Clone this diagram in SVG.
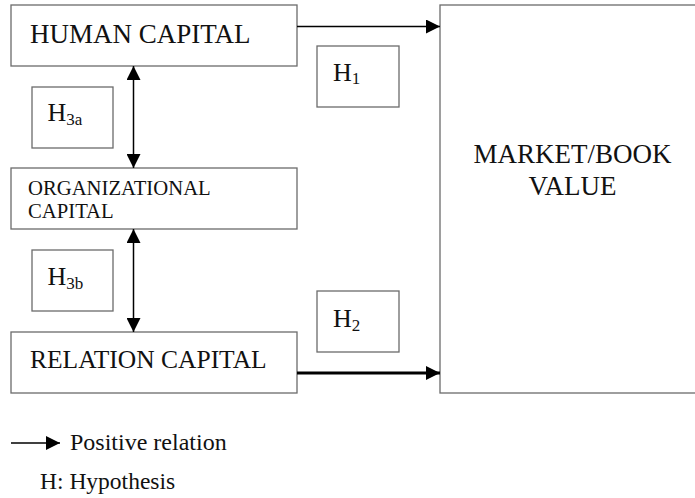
<svg xmlns="http://www.w3.org/2000/svg" width="695" height="498" viewBox="0 0 695 498">
<style>
.box{fill:#fff;stroke:#6b6b6b;stroke-width:1.3}
text{font-family:'Liberation Serif','DejaVu Serif',serif;fill:#111}
.sub{font-size:17px}
</style>
<defs>
<marker id="ahL" viewBox="0 0 10 10" refX="10" refY="5" markerWidth="14" markerHeight="14" orient="auto-start-reverse" markerUnits="userSpaceOnUse">
<path d="M0,0 L10,5 L0,10 Z" fill="#000"/>
</marker>
</defs>
<g id="market">
<rect class="box" x="440" y="5" width="262" height="388"/>
<text x="572.5" y="163" font-size="27" text-anchor="middle">MARKET/BOOK</text>
<text x="572.5" y="195" font-size="27" text-anchor="middle">VALUE</text>
</g>
<g id="human">
<rect class="box" x="11" y="5" width="286" height="61"/>
<text x="30" y="43" font-size="27">HUMAN CAPITAL</text>
</g>
<g id="organizational">
<rect class="box" x="11" y="168" width="286" height="61"/>
<text x="28" y="195" font-size="20.7">ORGANIZATIONAL</text>
<text x="28" y="218" font-size="20.7">CAPITAL</text>
</g>
<g id="relation">
<rect class="box" x="11" y="332" width="286" height="61"/>
<text x="30" y="368" font-size="25.5">RELATION CAPITAL</text>
</g>
<g id="h1">
<rect class="box" x="317" y="46" width="82" height="61"/>
<text x="333" y="80.5" font-size="26">H<tspan class="sub" dy="3.5">1</tspan></text>
</g>
<g id="h2">
<rect class="box" x="317" y="291" width="82" height="61"/>
<text x="333" y="327" font-size="26">H<tspan class="sub" dy="3.5">2</tspan></text>
</g>
<g id="h3a">
<rect class="box" x="32" y="87" width="81" height="61"/>
<text x="47.5" y="120.5" font-size="26">H<tspan class="sub" dy="4">3a</tspan></text>
</g>
<g id="h3b">
<rect class="box" x="32" y="250" width="81" height="61"/>
<text x="47.5" y="285" font-size="26">H<tspan class="sub" dy="4">3b</tspan></text>
</g>
<g id="connectors">
<line x1="297" y1="26.5" x2="440" y2="26.5" stroke="#000" stroke-width="1.5" marker-end="url(#ahL)"/>
<line x1="297" y1="373" x2="440" y2="373" stroke="#000" stroke-width="3" marker-end="url(#ahL)"/>
<line x1="133.5" y1="66" x2="133.5" y2="168" stroke="#000" stroke-width="1.5" marker-start="url(#ahL)" marker-end="url(#ahL)"/>
<line x1="133.5" y1="229" x2="133.5" y2="332" stroke="#000" stroke-width="1.5" marker-start="url(#ahL)" marker-end="url(#ahL)"/>
</g>
<g id="legend">
<line x1="11" y1="443" x2="60" y2="443" stroke="#000" stroke-width="1.5" marker-end="url(#ahL)"/>
<text x="70" y="450" font-size="24">Positive relation</text>
<text x="40" y="489" font-size="23.5">H: Hypothesis</text>
</g>
</svg>
